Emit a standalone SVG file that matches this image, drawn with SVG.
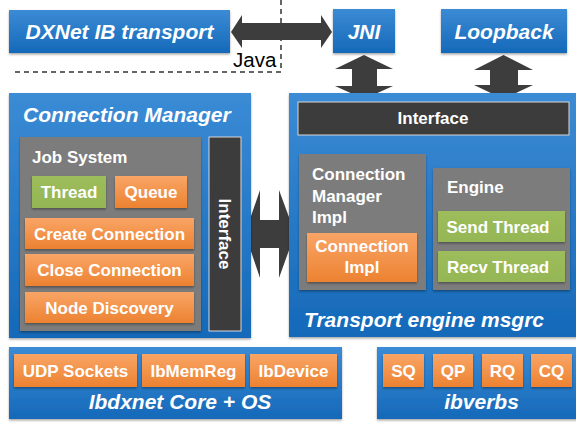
<svg xmlns="http://www.w3.org/2000/svg" width="576" height="423" viewBox="0 0 576 423">
<defs>
<linearGradient id="gBlue" x1="0" y1="0" x2="0" y2="1">
<stop offset="0" stop-color="#3b8bd5"/>
<stop offset="1" stop-color="#1569b9"/>
</linearGradient>
<linearGradient id="gOrange" x1="0" y1="0" x2="0" y2="1">
<stop offset="0" stop-color="#f9a566"/>
<stop offset="1" stop-color="#ec8231"/>
</linearGradient>
<linearGradient id="gGreen" x1="0" y1="0" x2="0" y2="1">
<stop offset="0" stop-color="#9dbd5c"/>
<stop offset="1" stop-color="#95b654"/>
</linearGradient>
<filter id="sh" x="-10%" y="-10%" width="120%" height="130%">
<feDropShadow dx="0" dy="1.5" stdDeviation="1" flood-color="#000" flood-opacity="0.35"/>
</filter>
</defs>
<style>
.blue{fill:url(#gBlue);filter:url(#sh)}
.orange{fill:url(#gOrange);filter:url(#sh)}
.green{fill:url(#gGreen);filter:url(#sh)}
.gray{fill:#7b7b7b;filter:url(#sh)}
.dark{fill:#3c3c3c;stroke:#d8d8d8;stroke-width:1}
.arrow{fill:#3d3d3d}
.dash{fill:none;stroke:#333;stroke-width:1.5;stroke-dasharray:5 4}
text{font-family:"Liberation Sans",Arial,sans-serif;fill:#fff}
.title{font-size:21px;font-weight:bold;font-style:italic}
.lbl{font-size:17px;font-weight:bold}
.c{text-anchor:middle}
.java{font-size:20.5px;fill:#000}
</style>

<g id="connectors">
<line class="dash" x1="281" y1="0" x2="281" y2="72"/>
<line class="dash" x1="15" y1="72" x2="281" y2="72"/>
<polygon class="arrow" points="231,32 242,15 242,23 321,23 321,15 332,32 321,48 321,40 242,40 242,48"/>
<polygon class="arrow" points="364,55 393,69 377,69 377,86 393,86 364,99 335,86 352,86 352,69 335,69"/>
<polygon class="arrow" points="503.5,55 533,70 518,70 518,85 533,85 503.5,99 474,85 490,85 490,70 474,70"/>
<polygon class="arrow" points="502.5,137 522,147 512,147 512,155 522,155 502.5,165 483,155 493,155 493,147 483,147"/>
<polygon class="arrow" points="245,233.5 260,190 260,220 279,220 279,190 295,233.5 279,278 279,248 260,248 260,278"/>
<text class="java" x="233" y="67">Java</text>
</g>

<g id="dxnet">
<rect class="blue" x="9" y="10" width="221" height="43"/>
<text class="title c" x="119.5" y="39">DXNet IB transport</text>
</g>
<g id="jni">
<rect class="blue" x="333" y="9" width="62" height="44"/>
<text class="title c" x="364" y="39">JNI</text>
</g>
<g id="loopback">
<rect class="blue" x="441" y="9" width="126" height="44"/>
<text class="title c" x="504" y="39">Loopback</text>
</g>

<g id="connection-manager">
<rect class="blue" x="9" y="93" width="242" height="245"/>
<text class="title" x="23" y="122">Connection Manager</text>
</g>
<g id="job-system">
<rect class="gray" x="20" y="137" width="181" height="194"/>
<text class="lbl" x="32" y="163">Job System</text>
</g>
<g id="thread">
<rect class="green" x="32" y="176" width="74" height="32"/>
<text class="lbl c" x="69" y="198">Thread</text>
</g>
<g id="queue">
<rect class="orange" x="115" y="176" width="72" height="32"/>
<text class="lbl c" x="151" y="198">Queue</text>
</g>
<g id="create-connection">
<rect class="orange" x="25" y="218" width="169" height="31"/>
<text class="lbl c" x="109.5" y="240">Create Connection</text>
</g>
<g id="close-connection">
<rect class="orange" x="25" y="254" width="169" height="32"/>
<text class="lbl c" x="109.5" y="276">Close Connection</text>
</g>
<g id="node-discovery">
<rect class="orange" x="25" y="292" width="169" height="31"/>
<text class="lbl c" x="109.5" y="314">Node Discovery</text>
</g>
<g id="cm-interface">
<rect class="dark" x="209" y="137" width="32" height="194"/>
<text class="lbl c" transform="translate(219,234) rotate(90)">Interface</text>
</g>

<g id="transport-engine">
<rect class="blue" x="289" y="93" width="290" height="244"/>
<text class="title" x="304" y="327">Transport engine msgrc</text>
</g>
<g id="te-interface">
<rect class="dark" x="298" y="102" width="271" height="33"/>
<text class="lbl c" x="433" y="124">Interface</text>
</g>
<g id="cm-impl">
<rect class="gray" x="299" y="154" width="127" height="136"/>
<text class="lbl" x="312" y="180">Connection</text>
<text class="lbl" x="312" y="202">Manager</text>
<text class="lbl" x="312" y="223">Impl</text>
</g>
<g id="connection-impl">
<rect class="orange" x="307" y="233" width="110" height="49"/>
<text class="lbl c" x="362" y="252">Connection</text>
<text class="lbl c" x="362" y="273">Impl</text>
</g>
<g id="engine">
<rect class="gray" x="433" y="168" width="137" height="122"/>
<text class="lbl" x="447" y="193">Engine</text>
</g>
<g id="send-thread">
<rect class="green" x="438" y="211" width="127" height="31"/>
<text class="lbl c" x="498" y="233">Send Thread</text>
</g>
<g id="recv-thread">
<rect class="green" x="438" y="251" width="127" height="31"/>
<text class="lbl c" x="498" y="273">Recv Thread</text>
</g>

<g id="ibdxnet-core">
<rect class="blue" x="9" y="347" width="333" height="72"/>
<text class="title c" x="180" y="409">Ibdxnet Core + OS</text>
</g>
<g id="udp-sockets">
<rect class="orange" x="14" y="354" width="123" height="33"/>
<text class="lbl c" x="75.5" y="377">UDP Sockets</text>
</g>
<g id="ibmemreg">
<rect class="orange" x="142" y="354" width="103" height="33"/>
<text class="lbl c" x="193.5" y="377">IbMemReg</text>
</g>
<g id="ibdevice">
<rect class="orange" x="250" y="354" width="87" height="33"/>
<text class="lbl c" x="293.5" y="377">IbDevice</text>
</g>

<g id="ibverbs">
<rect class="blue" x="377" y="347" width="202" height="72"/>
<text class="title c" x="481.5" y="409">ibverbs</text>
</g>
<g id="sq">
<rect class="orange" x="383" y="354" width="41" height="33"/>
<text class="lbl c" x="403.5" y="377">SQ</text>
</g>
<g id="qp">
<rect class="orange" x="433" y="354" width="40" height="33"/>
<text class="lbl c" x="453" y="377">QP</text>
</g>
<g id="rq">
<rect class="orange" x="482" y="354" width="41" height="33"/>
<text class="lbl c" x="502.5" y="377">RQ</text>
</g>
<g id="cq">
<rect class="orange" x="531" y="354" width="41" height="33"/>
<text class="lbl c" x="551.5" y="377">CQ</text>
</g>
</svg>
